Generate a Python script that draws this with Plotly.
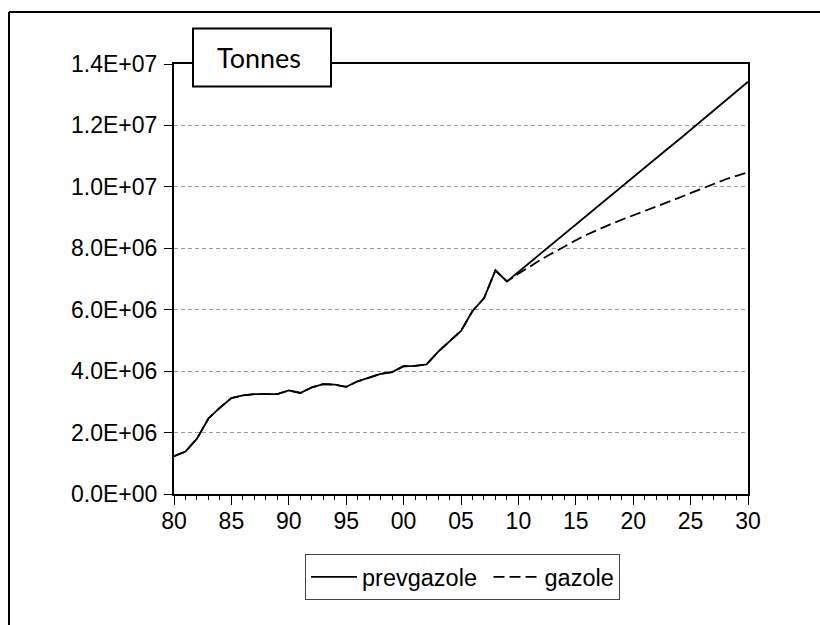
import plotly.graph_objects as go

# Annual series, 1980-2030 (tonnes)
years = list(range(1980, 2031))

prevgazole = [
    1.23e6, 1.38e6, 1.80e6, 2.46e6, 2.81e6, 3.12e6, 3.21e6, 3.25e6, 3.25e6, 3.25e6,
    3.37e6, 3.29e6, 3.47e6, 3.58e6, 3.56e6, 3.49e6, 3.67e6, 3.80e6, 3.91e6, 3.97e6,
    4.16e6, 4.17e6, 4.22e6, 4.63e6, 4.96e6, 5.31e6, 5.96e6, 6.37e6, 7.28e6, 6.92e6,
    7.23e6, 7.54e6, 7.85e6, 8.16e6, 8.46e6, 8.77e6, 9.08e6, 9.39e6, 9.69e6, 10.00e6,
    10.31e6, 10.62e6, 10.93e6, 11.24e6, 11.54e6, 11.85e6, 12.16e6, 12.48e6, 12.79e6, 13.10e6,
    13.42e6,
]

gazole = [
    1.23e6, 1.38e6, 1.80e6, 2.46e6, 2.81e6, 3.12e6, 3.21e6, 3.25e6, 3.25e6, 3.25e6,
    3.37e6, 3.29e6, 3.47e6, 3.58e6, 3.56e6, 3.49e6, 3.67e6, 3.80e6, 3.91e6, 3.97e6,
    4.16e6, 4.17e6, 4.22e6, 4.63e6, 4.96e6, 5.31e6, 5.96e6, 6.37e6, 7.28e6, 6.92e6,
    7.17e6, 7.41e6, 7.64e6, 7.85e6, 8.06e6, 8.26e6, 8.45e6, 8.62e6, 8.78e6, 8.93e6,
    9.08e6, 9.22e6, 9.36e6, 9.50e6, 9.65e6, 9.80e6, 9.96e6, 10.11e6, 10.24e6, 10.36e6,
    10.47e6,
]

x_tickvals = [1980, 1985, 1990, 1995, 2000, 2005, 2010, 2015, 2020, 2025, 2030]
x_ticktext = ["80", "85", "90", "95", "00", "05", "10", "15", "20", "25", "30"]

y_tickvals = [0, 2e6, 4e6, 6e6, 8e6, 10e6, 12e6, 14e6]
y_ticktext = ["0.0E+00", "2.0E+06", "4.0E+06", "6.0E+06", "8.0E+06",
              "1.0E+07", "1.2E+07", "1.4E+07"]

W, H = 820, 625
ML, MR, MT, MB = 174, 72, 64, 131


def px_x(x):
    return (x - ML) / (W - ML - MR)


def px_y(y):
    return (H - MB - y) / (H - MT - MB)


tick_font = dict(family="Liberation Sans, Arial, sans-serif", size=23, color="black")

fig = go.Figure()
fig.add_trace(go.Scatter(
    x=years, y=prevgazole, name="prevgazole\u00a0", mode="lines",
    line=dict(color="black", width=1.8),
))
fig.add_trace(go.Scatter(
    x=years, y=gazole, name="gazole", mode="lines",
    line=dict(color="black", width=1.8, dash="11px,5px"),
))

fig.update_xaxes(
    range=[1980, 2030],
    tickmode="array", tickvals=x_tickvals, ticktext=x_ticktext,
    ticks="outside", ticklen=9, tickwidth=1.2, tickcolor="black",
    minor=dict(tickmode="array", tickvals=years, ticks="outside",
               ticklen=4, tickwidth=1, tickcolor="black", showgrid=False),
    showline=True, linecolor="black", linewidth=2, mirror=True,
    showgrid=False, zeroline=False,
    tickfont=tick_font,
    ticklabelstandoff=-4,
)
fig.update_yaxes(
    range=[0, 1.4e7],
    tickmode="array", tickvals=y_tickvals, ticktext=y_ticktext,
    ticks="outside", ticklen=8, tickwidth=1.2, tickcolor="black",
    showline=True, linecolor="black", linewidth=2, mirror=True,
    showgrid=True, gridcolor="#9a9a9a", gridwidth=1, griddash="4px,3px",
    zeroline=False,
    tickfont=tick_font,
    ticklabelstandoff=2,
)

# outer frame (top and left edges)
fig.add_shape(type="line", xref="paper", yref="paper",
              x0=px_x(9), y0=px_y(12), x1=px_x(830), y1=px_y(12),
              line=dict(color="black", width=2), layer="above")
fig.add_shape(type="line", xref="paper", yref="paper",
              x0=px_x(9), y0=px_y(12), x1=px_x(9), y1=px_y(640),
              line=dict(color="black", width=2), layer="above")

# unit label box
fig.add_shape(type="rect", xref="paper", yref="paper",
              x0=px_x(193), y0=px_y(28.5), x1=px_x(331), y1=px_y(86.5),
              fillcolor="white", line=dict(color="black", width=2), layer="above")
fig.add_annotation(xref="paper", yref="paper",
                   x=px_x(259), y=px_y(57), text="Tonnes", showarrow=False,
                   xanchor="center", yanchor="middle",
                   font=dict(family="Lato, Noto Sans, sans-serif", size=27, color="black"))

fig.update_layout(
    width=W, height=H,
    margin=dict(l=ML, r=MR, t=MT, b=MB, pad=0),
    paper_bgcolor="white", plot_bgcolor="white",
    showlegend=True,
    legend=dict(
        orientation="h", x=px_x(462.5), xanchor="center",
        y=px_y(554), yanchor="top",
        bordercolor="#444", borderwidth=1, bgcolor="white",
        font=dict(family="Liberation Sans, Arial, sans-serif", size=23.5, color="black"),
        itemwidth=46,
    ),
)

fig.write_html("out.html")
